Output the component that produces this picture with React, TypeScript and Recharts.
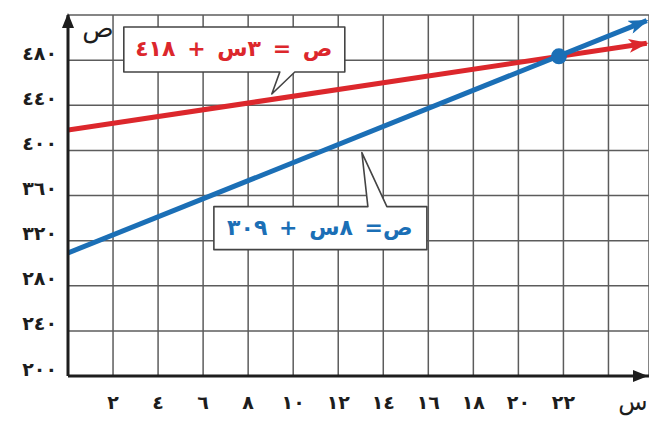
import { LineChart, Line, XAxis, YAxis, CartesianGrid, ReferenceDot } from "recharts";

// values
const xEnds   = [0, 25.7];
const redY    = [418, 495];   // ص = ٣س + ٤١٨
const blueY   = [309, 515];   // ص = ٨س + ٣٠٩
const meet    = { x: 21.8, y: 483.4 };

const xTicks      = [0, 2, 4, 6, 8, 10, 12, 14, 16, 18, 20, 22, 24];
const xTickLabels = ["", "٢", "٤", "٦", "٨", "١٠", "١٢", "١٤", "١٦", "١٨", "٢٠", "٢٢", ""];
const yTicks      = [200, 240, 280, 320, 360, 400, 440, 480, 520];
const yTickLabels = ["٢٠٠", "٢٤٠", "٢٨٠", "٣٢٠", "٣٦٠", "٤٠٠", "٤٤٠", "٤٨٠", ""];

const redLabel  = "ص = ٣س + ٤١٨";
const blueLabel = "ص= ٨س + ٣٠٩";

const RED  = "#dc272c";
const BLUE = "#1b6fb6";
const INK  = "#1d1d1d";
const font = "'DejaVu Sans', sans-serif";

const redData  = xEnds.map((x, i) => ({ x, y: redY[i] }));
const blueData = xEnds.map((x, i) => ({ x, y: blueY[i] }));

if (typeof document !== "undefined") document.body.style.margin = "0";

function YTick({ x, y, payload }: any) {
    const i = yTicks.indexOf(payload.value);
    return (
        <text x={x - 3} y={y - 6} textAnchor="end" dominantBaseline="middle" letterSpacing={3}
              fontFamily={font} fontWeight="bold" fontSize={19} fill={INK}>
            {yTickLabels[i]}
        </text>
    );
}

function XTick({ x, y, payload }: any) {
    const i = xTicks.indexOf(payload.value);
    return (
        <text x={x} y={y + 25} textAnchor="middle" letterSpacing={2}
              fontFamily={font} fontWeight="bold" fontSize={19} fill={INK}>
            {xTickLabels[i]}
        </text>
    );
}

// callout box with a pointer; (cx, cy) is the pointer tip
function Callout({ cx, cy, box, base, text, color, tx, ty }: any) {
    const [l, t, r, b] = box.map((v: number, i: number) => (i % 2 ? cy : cx) + v);
    const [p1, p2] = base.map((v: number) => cx + v);
    const up = t > cy;
    const d = up
        ? `M${l},${t} L${p1},${t} L${cx},${cy} L${p2},${t} L${r},${t} L${r},${b} L${l},${b} Z`
        : `M${l},${t} L${r},${t} L${r},${b} L${p2},${b} L${cx},${cy} L${p1},${b} L${l},${b} Z`;
    return (
        <g>
            <path d={d} fill="#fff" stroke="#444" strokeWidth={1.6} strokeLinejoin="round" />
            <text x={cx + tx} y={cy + ty} textAnchor="middle" dominantBaseline="middle" direction="rtl"
                  fontFamily={font} fontWeight="bold" fontSize={22} fill={color} wordSpacing={4}>
                {text}
            </text>
        </g>
    );
}

export default function App() {
    return (
        <LineChart width={649} height={421} margin={{ top: 15, right: 0, bottom: 0, left: 0 }}>
            <defs>
                <marker id="arrRed" viewBox="0 0 20 14" refX={18} refY={7} markerWidth={20} markerHeight={14}
                        markerUnits="userSpaceOnUse" orient="auto">
                    <path d="M0,0 L20,7 L0,14 L5,7 Z" fill={RED} />
                </marker>
                <marker id="arrBlue" viewBox="0 0 20 14" refX={18} refY={7} markerWidth={20} markerHeight={14}
                        markerUnits="userSpaceOnUse" orient="auto">
                    <path d="M0,0 L20,7 L0,14 L5,7 Z" fill={BLUE} />
                </marker>
            </defs>
            <CartesianGrid stroke="#5c5c5c" strokeWidth={1.5} />
            <XAxis dataKey="x" type="number" domain={[0, 25.8]} ticks={xTicks} allowDataOverflow
                   height={45} tickLine={false} axisLine={{ stroke: INK, strokeWidth: 3 }} tick={<XTick />} />
            <YAxis type="number" domain={[200, 520]} ticks={yTicks} allowDataOverflow
                   width={68} tickLine={false} axisLine={{ stroke: INK, strokeWidth: 3 }} tick={<YTick />} />

            <Line data={redData} dataKey="y" stroke={RED} strokeWidth={5} dot={false}
                  markerEnd="url(#arrRed)" isAnimationActive={false} />
            <Line data={blueData} dataKey="y" stroke={BLUE} strokeWidth={5} dot={false}
                  markerEnd="url(#arrBlue)" isAnimationActive={false} />

            <ReferenceDot x={meet.x} y={meet.y} r={8} fill={BLUE} stroke="none" />

            {/* axis arrows and names */}
            <ReferenceDot x={0} y={520} shape={({ cx, cy }: any) => (
                <g>
                    <polygon points={`${cx},${cy - 2} ${cx - 6},${cy + 13} ${cx + 6},${cy + 13}`} fill={INK} />
                    <text x={cx + 30} y={cy + 22} textAnchor="middle" fontFamily={font} fontSize={26} fill={INK}>ص</text>
                </g>
            )} />
            <ReferenceDot x={25.8} y={200} shape={({ cx, cy }: any) => (
                <g>
                    <polygon points={`${cx - 1},${cy} ${cx - 16},${cy - 6} ${cx - 16},${cy + 6}`} fill={INK} />
                    <text x={cx - 16} y={cy + 34} textAnchor="middle" fontFamily={font} fontSize={24} fill={INK}>س</text>
                </g>
            )} />

            {/* equation callouts */}
            <ReferenceDot x={9.05} y={450} shape={(p: any) => (
                <Callout {...p} box={[-148, -67, 73, -22]} base={[8, 23]} text={redLabel} color={RED} tx={-38} ty={-44} />
            )} />
            <ReferenceDot x={13.05} y={398} shape={(p: any) => (
                <Callout {...p} box={[-148, 54, 65, 97]} base={[6, 25]} text={blueLabel} color={BLUE} tx={-42} ty={76} />
            )} />
        </LineChart>
    );
}
